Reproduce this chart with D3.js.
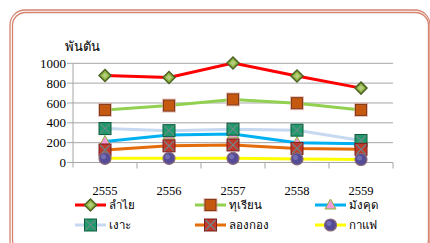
<!DOCTYPE html>
<html><head><meta charset="utf-8">
<script src="https://cdn.jsdelivr.net/npm/d3@7"></script>
<style>body{margin:0;background:#fff}svg{display:block}text{font-family:"Liberation Serif","Times New Roman",serif;fill:#000}</style>
</head><body>
<svg id="c" width="430" height="243"></svg>
<script>
const years = ["2555","2556","2557","2558","2559"];
const longan = [877, 857, 1003, 872, 750];
const durian = [530, 574, 636, 598, 530];
const mangosteen = [212, 278, 288, 200, 190];
const rambutan = [342, 321, 336, 326, 222];
const longkong = [126, 168, 177, 142, 133];
const coffee = [42, 42, 42, 36, 30];
const yTicks = [0, 200, 400, 600, 800, 1000];
const names = ["ลำไย","ทุเรียน","มังคุด","เงาะ","ลองกอง","กาแฟ"];

const series = [
  {name:names[0], values:longan, line:"#ff0000", marker:"diamond", fill:"#8db63c", stroke:"#4f6228"},
  {name:names[1], values:durian, line:"#92d050", marker:"square", fill:"#c5590f", stroke:"#7f3b1d"},
  {name:names[2], values:mangosteen, line:"#00b0f0", marker:"triangle", fill:"#f29ad8", stroke:"#8db63c"},
  {name:names[3], values:rambutan, line:"#c6d9f0", marker:"xsquare", fill:"#1e9a6b", stroke:"#0d5c3c"},
  {name:names[4], values:longkong, line:"#e46c0a", marker:"xsquare", fill:"#c0392b", stroke:"#7a1e1e"},
  {name:names[5], values:coffee, line:"#ffff00", marker:"circle", fill:"#544c96", stroke:"#8a6a7a"}
];

const svg = d3.select("#c");
// border (double rounded line)
svg.append("rect").attr("x",10).attr("y",10).attr("width",420).attr("height",245).attr("rx",15)
  .attr("fill","none").attr("stroke","#d4846f").attr("stroke-width",1.3);
svg.append("rect").attr("x",12.5).attr("y",12.5).attr("width",416).attr("height",240).attr("rx",13)
  .attr("fill","none").attr("stroke","#d4846f").attr("stroke-width",1.3);

const x0 = 73, x1 = 393, yTop = 63.3, yBot = 162.5;
const x = d3.scaleBand().domain(years).range([x0, x1]);
const y = d3.scaleLinear().domain([0, 1000]).range([yBot, yTop]);

// gridlines
svg.append("g").selectAll("line").data(yTicks).join("line")
  .attr("x1", x0-6).attr("x2", x1).attr("y1", d=>y(d)).attr("y2", d=>y(d))
  .attr("stroke","#a6a6a6").attr("stroke-width",1);
// y axis line
svg.append("line").attr("x1",x0).attr("x2",x0).attr("y1",yTop).attr("y2",yBot+5)
  .attr("stroke","#a6a6a6");
// category ticks
const bounds = years.map(d=>x(d)).concat([x1]);
svg.append("g").selectAll("line").data(bounds.slice(1)).join("line")
  .attr("x1",d=>d).attr("x2",d=>d).attr("y1",yBot).attr("y2",yBot+6).attr("stroke","#a6a6a6");

// y labels
svg.append("g").selectAll("text").data(yTicks).join("text")
  .attr("x",66).attr("y",d=>y(d)).attr("dy","0.35em").attr("text-anchor","end")
  .attr("font-size",13).text(d=>d);
// x labels
svg.append("g").selectAll("text").data(years).join("text")
  .attr("x",d=>x(d)+x.bandwidth()/2).attr("y",191).attr("dy","0.35em").attr("text-anchor","middle")
  .attr("font-size",12.5).text(d=>d);
// unit
svg.append("text").attr("x",65).attr("y",46).attr("dy","0.35em").attr("font-size",13).text("พันตัน");

function drawMarker(g, type, fill, stroke){
  if(type==="diamond"){
    g.append("path").attr("d","M0,-6L6,0L0,6L-6,0Z").attr("fill",fill).attr("stroke",stroke).attr("stroke-width",1.5);
    g.append("path").attr("d","M0,-3L3,0L0,3L-3,0Z").attr("fill","#c3d69b").attr("opacity",0.7);
  } else if(type==="square"){
    g.append("rect").attr("x",-7).attr("y",-7).attr("width",14).attr("height",14).attr("fill","#d99a8a").attr("opacity",0.6);
    g.append("rect").attr("x",-5.5).attr("y",-5.5).attr("width",11).attr("height",11).attr("fill",fill).attr("stroke",stroke).attr("stroke-width",1);
  } else if(type==="xsquare"){
    g.append("rect").attr("x",-6).attr("y",-6).attr("width",12).attr("height",12).attr("fill",fill).attr("stroke",stroke).attr("stroke-width",1);
    g.append("path").attr("d","M-5,-5L5,5M5,-5L-5,5").attr("stroke","#6a8a8a").attr("stroke-width",1.2);
  } else if(type==="triangle"){
    g.append("path").attr("d","M0,-6L5.5,4L-5.5,4Z").attr("fill",fill).attr("stroke",stroke).attr("stroke-width",1);
  } else {
    g.append("circle").attr("r",6).attr("fill",fill).attr("stroke",stroke).attr("stroke-width",1.2);
    g.append("circle").attr("r",2.5).attr("cx",-1.5).attr("cy",-1.5).attr("fill","#8a86c4").attr("opacity",0.6);
  }
}

const line = d3.line().x((d,i)=>x(years[i])+x.bandwidth()/2).y(d=>y(d));
series.forEach(s=>{
  svg.append("path").attr("d",line(s.values)).attr("fill","none").attr("stroke",s.line).attr("stroke-width",3);
});
series.forEach(s=>{
  s.values.forEach((v,i)=>{
    const g = svg.append("g").attr("transform",`translate(${x(years[i])+x.bandwidth()/2},${y(v)})`);
    drawMarker(g, s.marker, s.fill, s.stroke);
  });
});

// legend
const legX = [75, 195, 315], legY = [205, 225];
series.forEach((s,i)=>{
  const lx = legX[i%3], ly = legY[Math.floor(i/3)];
  svg.append("line").attr("x1",lx).attr("x2",lx+31).attr("y1",ly).attr("y2",ly).attr("stroke",s.line).attr("stroke-width",3);
  const g = svg.append("g").attr("transform",`translate(${lx+15.5},${ly})`);
  drawMarker(g, s.marker, s.fill, s.stroke);
  svg.append("text").attr("x",lx+34).attr("y",ly).attr("dy","0.35em").attr("font-size",11.5).text(s.name);
});
</script>
</body></html>
